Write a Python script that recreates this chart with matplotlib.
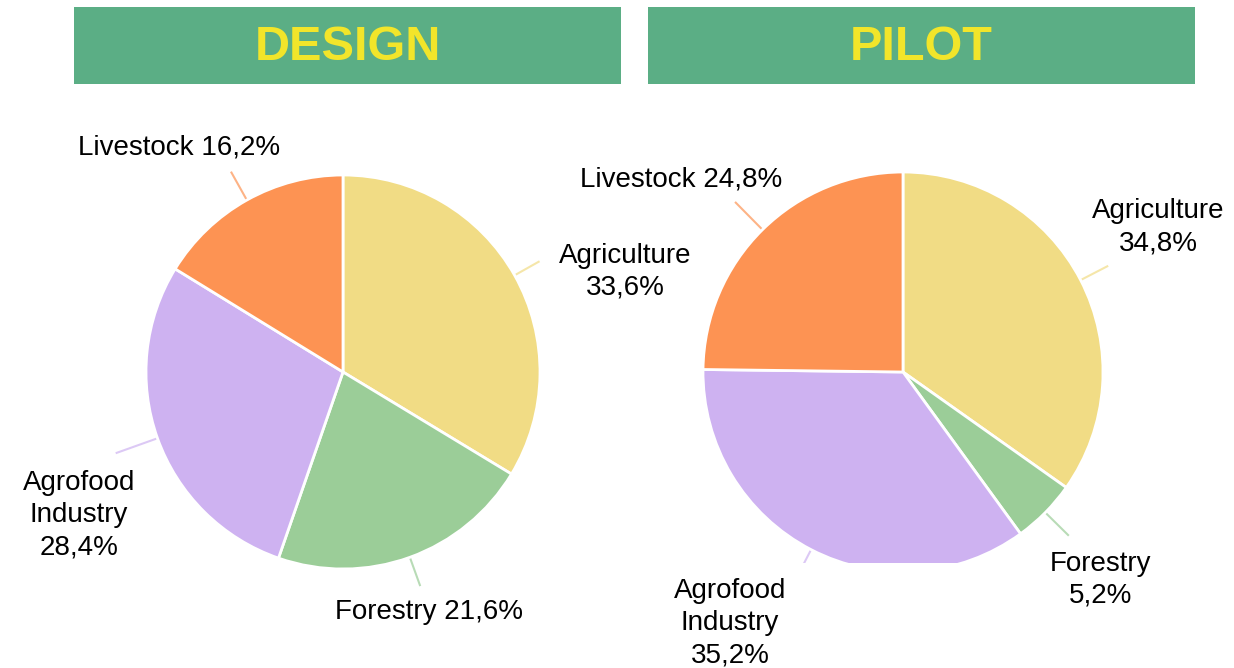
import numpy as np
import matplotlib
matplotlib.use("Agg")
from matplotlib import pyplot as plt
from matplotlib.patches import Rectangle

plt.rcParams['font.family'] = ['Liberation Sans', 'DejaVu Sans']

# data
sectors = ["Agriculture", "Forestry", "Agrofood\nIndustry", "Livestock"]
design_share = [33.6, 21.6, 28.4, 16.2]
pilot_share = [34.8, 5.2, 35.2, 24.8]
panel_titles = ["DESIGN", "PILOT"]
sector_colors = ["#F1DC85", "#9BCD98", "#CEB2F1", "#FD9353"]

W, H = 1234, 668


def Y(py):
    return H - py


def pct(v):
    return f"{v:.1f}".replace(".", ",") + "%"


fig = plt.figure(figsize=(W / 100, H / 100), dpi=100)
ax = fig.add_axes([0, 0, 1, 1])

# header boxes
for x0, title in zip([74, 648], panel_titles):
    ax.add_patch(Rectangle((x0, Y(84)), 547, 77, facecolor="#5BAE85",
                           edgecolor="none"))
    ax.text(x0 + 273.5, Y(48), title, ha="center", va="center",
            fontsize=35, fontweight="bold", color="#F2E52A")

# pies
pies = [
    (design_share, (343, Y(372)), 197,
     [1.14, 1.15, 1.22, 1.16],
     [(625, 272, "center", "{n}\n{p}"),
      (335, 612, "left", "{n} {p}"),
      (79, 515, "center", "{n}\n{p}"),
      (78, 148, "left", "{n} {p}")]),
    (pilot_share, (903, Y(372)), 200,
     [1.15, 1.16, 1.08, 1.19],
     [(1158, 227, "center", "{n}\n{p}"),
      (1101, 580, "center", "{n}\n{p}"),
      (730, 623, "center", "{n}\n{p}"),
      (580, 179, "left", "{n} {p}")]),
]

for k, (share, center, radius, lead, labels) in enumerate(pies):
    wedges, _ = ax.pie(share, colors=sector_colors, startangle=90,
                       counterclock=False, center=center, radius=radius,
                       frame=True,
                       wedgeprops=dict(edgecolor="white", linewidth=2))
    for w, f, (lx, ly, ha, fmt), name, v in zip(wedges, lead, labels,
                                                 sectors, share):
        mid = np.deg2rad((w.theta1 + w.theta2) / 2)
        cx, cy = w.center
        rr = np.array([w.r, w.r * f])
        ax.plot(cx + rr * np.cos(mid), cy + rr * np.sin(mid),
                color=w.get_facecolor(), alpha=0.7, lw=1.5, zorder=0.5)
        if "\n" in fmt:
            txt = fmt.format(n=name, p=pct(v))
        else:
            txt = fmt.format(n=name.replace("\n", " "), p=pct(v))
        ax.text(lx, Y(ly), txt, ha=ha, va="center", multialignment="center",
                fontsize=20, color="black", linespacing=1.3, zorder=5)

# the pilot pie is cut flat at the bottom in the source image
ax.add_patch(Rectangle((780, Y(580)), 260, 17, facecolor="white",
                       edgecolor="none", zorder=3))

ax.set_xlim(0, W)
ax.set_ylim(0, H)
ax.set_aspect("auto")
ax.axis("off")

fig.savefig("out.png", dpi=100, facecolor="white")
